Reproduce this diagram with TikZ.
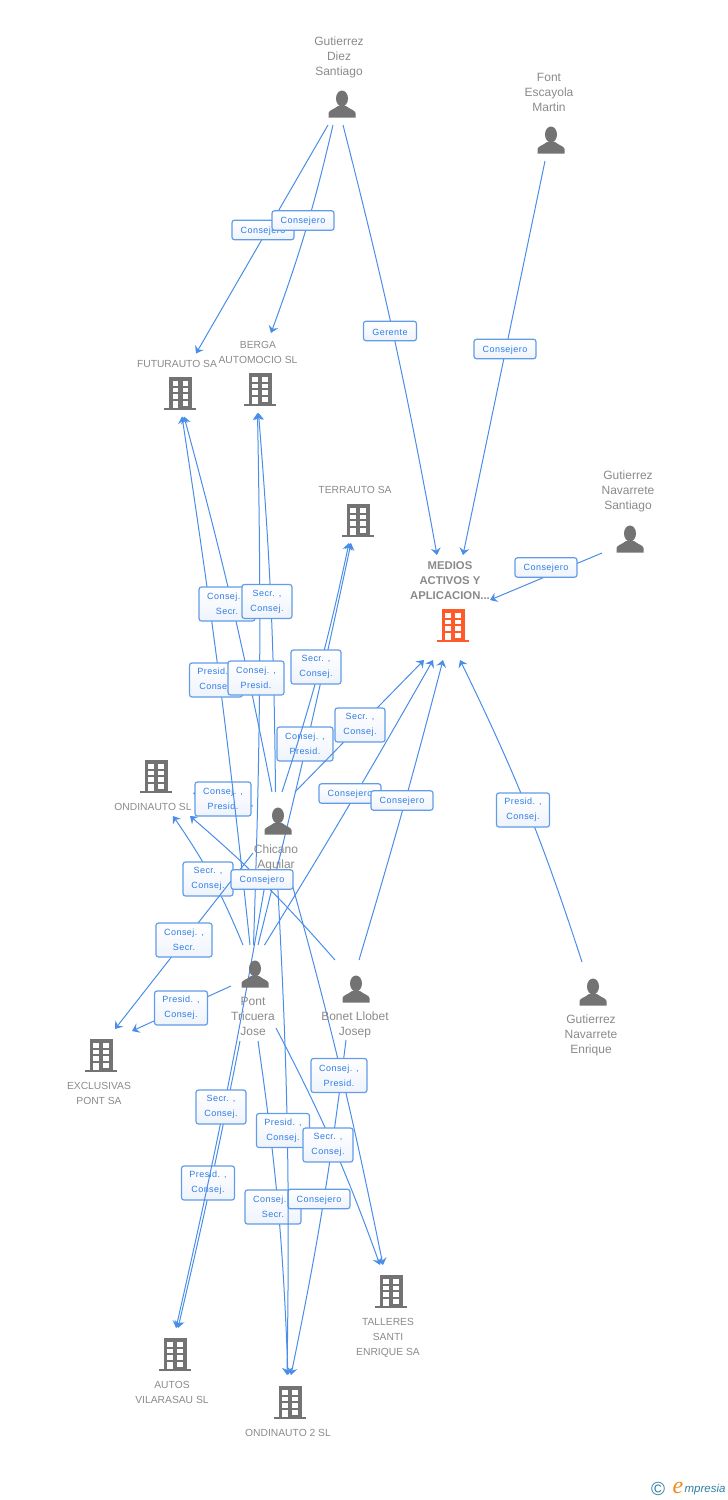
\documentclass[tikz,border=0pt]{standalone}
\usepackage{fontspec}
\setmainfont{Liberation Sans}
\newfontfamily\labfont[LetterSpace=5]{Liberation Sans}
\newfontfamily\logofont{Liberation Serif}
\usetikzlibrary{arrows.meta}

\definecolor{linkblue}{HTML}{4A8DE8}
\definecolor{boxblue}{HTML}{629CE9}
\definecolor{labblue}{HTML}{2F7CE6}
\definecolor{boxshade}{HTML}{EEF3FB}
\definecolor{namegray}{HTML}{8A8A8A}
\definecolor{icongray}{HTML}{737373}
\definecolor{mainorange}{HTML}{FF5A2A}
\definecolor{logoteal}{HTML}{2F7F9F}
\definecolor{logoorange}{HTML}{F08A1D}

\tikzset{
  ent/.style={inner sep=0pt,outer sep=0pt},
  link/.style={draw=linkblue,line width=1pt,-{Stealth[length=7pt,width=10pt,inset=2.5pt]}},
  lab/.style={draw=boxblue,line width=1.2pt,rounded corners=2.5pt,top color=white,bottom color=boxshade,
    text=labblue,align=center,inner sep=0pt,font=\labfont\fontsize{9}{15}\selectfont,
    execute at begin node={\rule{0pt}{8.6pt}}},
  labi/.style={lab,minimum width=#1,minimum height=19.5pt},
  labii/.style={lab,minimum width=#1,minimum height=34pt},
  persname/.style={text=namegray,align=center,inner sep=0pt,font=\fontsize{12}{15}\selectfont},
  coname/.style={text=namegray,align=center,inner sep=0pt,font=\fontsize{10.3}{15}\selectfont},
  pics/person/.style={code={
    \fill[icongray] (0,-5.5) ellipse (6 and 8);
    \fill[icongray] (-13.5,13.5) -- (-13.5,9) .. controls (-13,6) and (-8,5.5) .. (-4,2)
      -- (4,2) .. controls (8,5.5) and (13,6) .. (13.5,9) -- (13.5,13.5) -- cycle;
  }},
  pics/building/.style={code={
    \fill[#1] (-11,-16.7) rectangle (11.7,14);
    \fill[#1] (-16,13.7) rectangle (16,16.3);
    \foreach \row in {-13,-6.5,0} {
      \fill[white] (-7.8,\row) rectangle (-2.3,\row+4.7);
      \fill[white] (2.2,\row) rectangle (7.7,\row+4.7);
    }
    \fill[white] (-7.8,7) rectangle (-2.3,13.7);
    \fill[white] (2.2,7) rectangle (7.7,11.7);
  }},
}

\begin{document}
\begin{tikzpicture}[x=1pt,y=-1pt]
\useasboundingbox (0,0) rectangle (728,1500);

% people
\node[ent,minimum width=60pt,minimum height=94pt] (gds) at (342,78) {};
\node[ent,minimum width=60pt,minimum height=92pt] (fem) at (549,115) {};
\node[ent,minimum width=52pt,minimum height=84pt] (gns) at (628,511) {};
\node[ent,minimum width=43pt,minimum height=81pt] (cha) at (274.5,832.5) {};
\node[ent,minimum width=45pt,minimum height=96pt] (ptj) at (253.5,993) {};
\node[ent,minimum width=60pt,minimum height=80pt] (blj) at (355,1000) {};
\node[ent,minimum width=50pt,minimum height=86pt] (gne) at (591,1005) {};

% companies
\node[ent,minimum width=80pt,minimum height=63pt] (fut) at (180,385) {};
\node[ent,minimum width=76pt,minimum height=80pt] (ber) at (258,373) {};
\node[ent,minimum width=70pt,minimum height=56pt] (ter) at (355,515) {};
\node[ent,minimum width=78pt,minimum height=105pt] (med) at (451,607.5) {};
\node[ent,minimum width=78pt,minimum height=56pt] (ond) at (154,788) {};
\node[ent,minimum width=66pt,minimum height=80pt] (exc) at (99,1069) {};
\node[ent,minimum width=70pt,minimum height=90pt] (tal) at (388,1310) {};
\node[ent,minimum width=76pt,minimum height=80pt] (aut) at (173,1368) {};
\node[ent,minimum width=86pt,minimum height=60pt] (ondb) at (288,1405) {};

% links, each one followed by its box
\draw[link] ([xshift=-14pt]gds.south) -- ([xshift=16pt]fut.north);
\node[labi=62pt] (lfut) at (263,230) {Consejero};
\draw[link] ([xshift=-9pt]gds.south) to[bend left=3.5] ([xshift=13pt]ber.north);
\node[labi=62pt] (lber) at (303,220.5) {Consejero};
\draw[link] ([xshift=1pt]gds.south) to[bend left=2] ([xshift=-14pt]med.north);
\node[labi=53pt] (lger) at (390,331) {Gerente};
\draw[link] ([xshift=-4pt]fem.south) -- ([xshift=12pt]med.north);
\node[labi=62pt] (lfem) at (505,349) {Consejero};
\draw[link] (gns.south west) -- ([yshift=7.5pt]med.east);
\node[labi=62pt] (lgns) at (546,567.5) {Consejero};
\draw[link] ([xshift=-9pt]gne.north) to[bend right=4] ([xshift=9pt]med.south);
\node[labii=53pt] (lgne) at (523,810) {Presid. ,\\Consej.};

\draw[link] ([xshift=-20pt]blj.north) to[bend right=4] ([xshift=36pt]ond.south);
\draw[link] ([yshift=26.5pt]cha.west) -- ([yshift=-5pt]ond.east);
\node[labii=56pt] (lcho) at (223,799) {Consej. ,\\Presid.};
\draw[link] ([xshift=-10.5pt]ptj.north) to[bend right=6] ([xshift=19pt]ond.south);
\node[labii=50pt] (lpto) at (208,879) {Secr. ,\\Consej.};
\draw[link] ([yshift=-20.5pt]cha.west) -- ([xshift=16pt]exc.north);
\node[labii=56pt] (lche) at (184,940) {Consej. ,\\Secr.};
\draw[link] ([yshift=7pt]ptj.west) -- ([yshift=38pt]exc.east);
\node[labii=53pt] (lpte) at (181,1008) {Presid. ,\\Consej.};

\draw[link] ([xshift=-3.5pt]ptj.north) to[bend right=1.3] ([xshift=2pt]fut.south);
\node[labii=53pt] (lptf) at (216,680) {Presid. ,\\Consej.};
\draw[link] ([xshift=-2.5pt]cha.north) to[bend right=2] ([xshift=4pt]fut.south);
\node[labii=56pt] (lchf) at (227,604) {Consej. ,\\Secr.};
\draw[link] ([xshift=1pt]cha.north) to[bend right=2] ([xshift=0.5pt]ber.south);
\draw[link] (ptj.north) to[bend right=1.5] ([xshift=-0.5pt]ber.south);
\node[labii=56pt] (lptb) at (256,678) {Consej. ,\\Presid.};
\node[labii=50pt] (lchb) at (267,601.5) {Secr. ,\\Consej.};
\draw[link] ([xshift=4.5pt]ptj.north) to[bend right=1] ([xshift=-4pt]ter.south);
\node[labii=56pt] (lptt) at (305,744) {Consej. ,\\Presid.};
\draw[link] ([xshift=7.5pt]cha.north) to[bend right=3] ([xshift=-6pt]ter.south);
\node[labii=50pt] (lcht) at (316,667) {Secr. ,\\Consej.};
\draw[link] ([xshift=20.5pt]cha.north) -- ([xshift=-27pt]med.south);
\node[labii=50pt] (lchm) at (360,725) {Secr. ,\\Consej.};
\draw[link] ([xshift=11pt]ptj.north) to[bend right=1] ([xshift=-18pt]med.south);
\node[labi=62pt] (lptm) at (350,793.5) {Consejero};
\draw[link] ([xshift=4pt]blj.north) to[bend right=1] ([xshift=-8pt]med.south);
\node[labi=62pt] (lblm) at (402,800.5) {Consejero};

\draw[link] ([xshift=-13.5pt]ptj.south) to[bend left=1] ([xshift=5pt]aut.north);
\node[labii=53pt] (lpta) at (208,1183) {Presid. ,\\Consej.};
\draw[link] ([xshift=-7.5pt]cha.south) to[bend left=1.5] ([xshift=3pt]aut.north);
\node[labii=50pt] (lcha) at (221,1107) {Secr. ,\\Consej.};
\draw[link] ([xshift=4.5pt]ptj.south) to[bend left=3] (ondb.north);
\node[labii=56pt] (lptd) at (273,1207) {Consej. ,\\Secr.};
\draw[link] ([xshift=-9pt]blj.south) to[bend left=2.3] ([xshift=3pt]ondb.north);
\node[labi=62pt] (lbld) at (319,1199) {Consejero};
\draw[link] ([xshift=2.5pt]cha.south) to[bend left=2] ([xshift=-1pt]ondb.north);
\node[labii=53pt] (lchd) at (283,1130.5) {Presid. ,\\Consej.};
\draw[link] ([xshift=14.5pt]cha.south) to[bend left=2] ([xshift=-5pt]tal.north);
\node[labii=56pt] (lchl) at (339,1075.5) {Consej. ,\\Presid.};
\draw[link] ([yshift=-35pt]ptj.east) to[bend left=3.8] ([xshift=-8pt]tal.north);
\node[labii=50pt] (lptl) at (328,1145) {Secr. ,\\Consej.};
\node[labi=62pt] (lblj) at (262,879.5) {Consejero};

% icons
\pic at (342,104) {person};
\pic at (551,140) {person};
\pic at (630,539) {person};
\pic at (278,821) {person};
\pic at (255,974) {person};
\pic at (356,989) {person};
\pic at (593,992) {person};
\pic at (180.3,394) {building=icongray};
\pic at (260,390) {building=icongray};
\pic at (358,521) {building=icongray};
\pic at (453,626) {building=mainorange};
\pic at (156,777) {building=icongray};
\pic at (101,1056) {building=icongray};
\pic at (391,1292) {building=icongray};
\pic at (175,1355) {building=icongray};
\pic at (290,1403) {building=icongray};

% names
\node[persname] (gdsn) at (339,57) {Gutierrez\\Diez\\Santiago};
\node[persname] (femn) at (549,92) {Font\\Escayola\\Martin};
\node[persname] (gnsn) at (628,491.5) {Gutierrez\\Navarrete\\Santiago};
\node[persname] (chan) at (276,857.5) {Chicano\\Aguilar};
\node[persname] (ptjn) at (253,1016) {Pont\\Tricuera\\Jose};
\node[persname] (bljn) at (355,1024.5) {Bonet Llobet\\Josep};
\node[persname] (gnen) at (591,1035) {Gutierrez\\Navarrete\\Enrique};
\node[coname] (futn) at (177,364) {FUTURAUTO SA};
\node[coname] (bern) at (258,352.5) {BERGA\\AUTOMOCIO SL};
\node[coname] (tern) at (355,490) {TERRAUTO SA};
\node[coname,font=\bfseries\fontsize{11.3}{15}\selectfont] (medn) at (450,581) {MEDIOS\\ACTIVOS Y\\APLICACION...};
\node[coname] (ondn) at (153,807) {ONDINAUTO SL};
\node[coname] (excn) at (99,1093.5) {EXCLUSIVAS\\PONT SA};
\node[coname] (taln) at (388,1337.5) {TALLERES\\SANTI\\ENRIQUE SA};
\node[coname] (autn) at (172,1392.5) {AUTOS\\VILARASAU SL};
\node[coname] (ondbn) at (288,1433) {ONDINAUTO 2 SL};

% logo
\node[text=logoteal,inner sep=0pt,font=\fontsize{19}{19}\selectfont] (logoc) at (658,1489) {©};
\node[text=logoorange,inner sep=0pt,font=\logofont\itshape\fontsize{24}{24}\selectfont] (logoe) at (678,1487.5) {e};
\node[text=logoteal,inner sep=0pt,font=\itshape\fontsize{11.5}{11.5}\selectfont] (logot) at (705,1490) {mpresia};
\end{tikzpicture}
\end{document}
